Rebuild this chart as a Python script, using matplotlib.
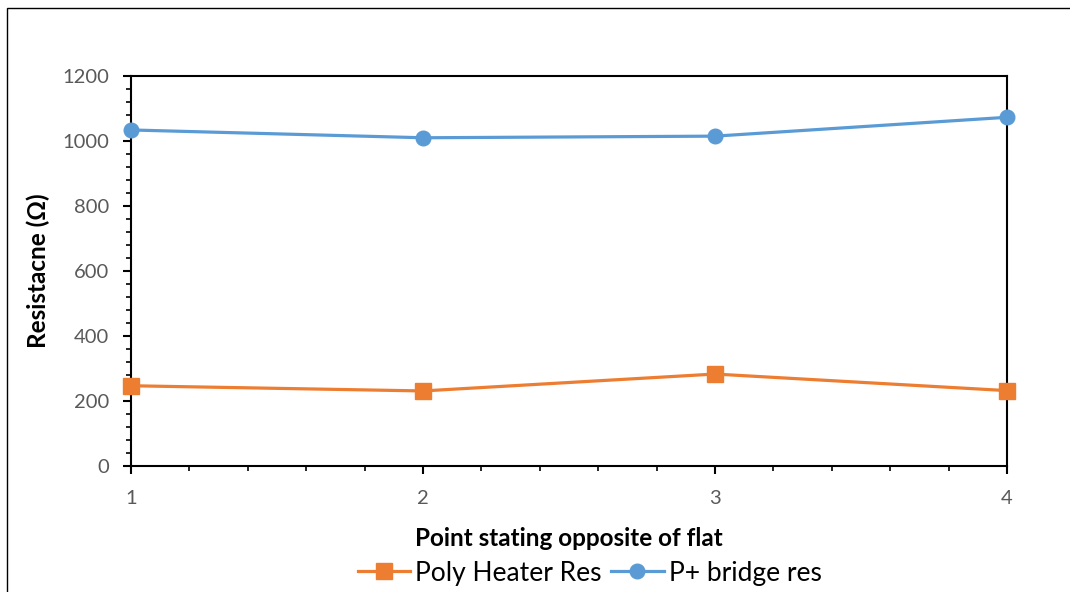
import matplotlib
matplotlib.use("Agg")
import matplotlib.pyplot as plt
from matplotlib.ticker import MultipleLocator
from matplotlib.patches import Rectangle

# measurement points around the wafer, starting opposite of the flat
points = [1, 2, 3, 4]
poly_heater = [247, 231, 283, 232]
p_bridge = [1034, 1010, 1015, 1073]

plt.rcParams['font.family'] = ['Lato', 'DejaVu Sans']

fig = plt.figure(figsize=(10.7, 5.92), dpi=100)
ax = fig.add_axes((0.1224, 0.2128, 0.8187, 0.6588))

# outer chart frame
fig.patches.append(Rectangle((7/1070, -0.1), 1.2, 1 - 8/592 + 0.1, transform=fig.transFigure,
                             fill=False, edgecolor='black', linewidth=1.0, zorder=0))

l1, = ax.plot(points, poly_heater, color='#ED7D31', linewidth=2.3, marker='s',
              markersize=11.5, clip_on=False, zorder=3)
l2, = ax.plot(points, p_bridge, color='#5B9BD5', linewidth=2.3, marker='o',
              markersize=10.5, clip_on=False, zorder=3)

ax.set_xlim(1, 4)
ax.set_ylim(0, 1200)
ax.xaxis.set_major_locator(MultipleLocator(1))
ax.xaxis.set_minor_locator(MultipleLocator(0.2))
ax.yaxis.set_major_locator(MultipleLocator(200))
ax.yaxis.set_minor_locator(MultipleLocator(40))

for s in ax.spines.values():
    s.set_linewidth(1.5)
    s.set_color('black')

ax.tick_params(axis='both', which='major', direction='out', length=5.5, width=1.5,
               labelsize=14.5, labelcolor='#595959')
ax.tick_params(axis='y', which='major', pad=10)
ax.tick_params(axis='x', which='major', pad=12)
ax.tick_params(axis='both', which='minor', direction='out', length=3.8, width=1.2)

ax.set_xlabel('Point stating opposite of flat', fontsize=17.5, fontweight='bold', labelpad=14)
ax.set_ylabel('Resistacne (Ω)', fontsize=17.5, fontweight='bold', labelpad=9)

fig.legend(handles=[l1, l2], labels=['Poly Heater Res', 'P+ bridge res'],
           loc='center', bbox_to_anchor=(0.551, 0.032), ncol=2, frameon=False,
           fontsize=19, handlelength=2.0, columnspacing=0.34, handletextpad=0.19,
           borderpad=0.2)

fig.savefig('out.png', dpi=100, facecolor='white')
